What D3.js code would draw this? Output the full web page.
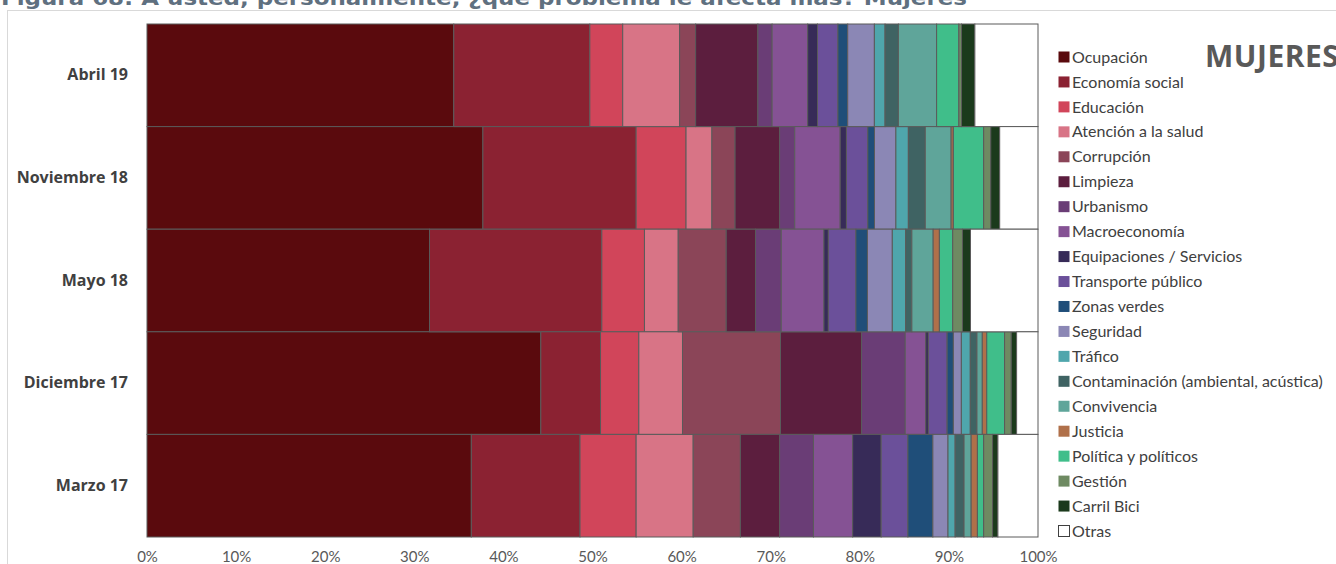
<!DOCTYPE html>
<html><head><meta charset="utf-8">
<script src="https://cdn.jsdelivr.net/npm/d3@7"></script>
<style>
html,body{margin:0;padding:0;background:#fff;}
svg{display:block;}
</style></head>
<body>
<svg id="chart" width="1336" height="564"></svg>
<script>
const waves = ["Abril 19","Noviembre 18","Mayo 18","Diciembre 17","Marzo 17"];
const problems = ["Ocupación","Economía social","Educación","Atención a la salud","Corrupción","Limpieza","Urbanismo","Macroeconomía","Equipaciones / Servicios","Transporte público","Zonas verdes","Seguridad","Tráfico","Contaminación (ambiental, acústica)","Convivencia","Justicia","Política y políticos","Gestión","Carril Bici","Otras"];
const colors = ["#5a0a0d","#8b2232","#d1455a","#d87486","#8b4558","#5c1e3e","#6a3d76","#855294","#372b58","#6b509a","#1f4e79","#8b87b5","#4fa6ac","#3f6363","#5fa59a","#b0704a","#40be8a","#6e8a62","#1b3a1c","#ffffff"];
const ticks = [0,0.1,0.2,0.3,0.4,0.5,0.6,0.7,0.8,0.9,1];

const abril19     = [34.5,15.3,3.7,6.4,1.8,7.0,1.6,4.0,1.1,2.3,1.1,3.0,1.2,1.5,4.3,0.0,2.5,0.3,1.5,7.1];
const noviembre18 = [37.7,17.2,5.6,2.9,2.6,5.0,1.7,5.1,0.7,2.4,0.75,2.4,1.4,1.9,2.9,0.25,3.4,0.8,1.0,4.3];
const mayo18      = [31.8,19.4,4.8,3.8,5.4,3.3,2.9,4.8,0.5,3.1,1.3,2.8,1.5,0.7,2.4,0.7,1.5,1.1,0.9,7.6];
const diciembre17 = [44.2,6.7,4.3,4.9,11.0,9.1,4.9,2.3,0.3,2.1,0.7,0.9,1.0,0.75,0.6,0.5,2.0,0.75,0.6,2.4];
const marzo17     = [36.4,12.2,6.3,6.4,5.3,4.4,3.8,4.4,3.2,3.0,2.8,1.7,0.8,1.0,0.8,0.7,0.7,1.0,0.6,4.5];
const waveValues = [abril19, noviembre18, mayo18, diciembre17, marzo17];

const table = waves.map((w, i) => {
  const row = {wave: w};
  problems.forEach((p, j) => row[p] = waveValues[i][j]);
  return row;
});

const svg = d3.select("#chart");
const W = 1336, H = 564;

// chart frame
svg.append("rect").attr("x", 7.5).attr("y", 10.5).attr("width", W).attr("height", H)
  .attr("fill", "none").attr("stroke", "#d9d9d9").attr("stroke-width", 1);

// title (partially cut at top)
svg.append("text").attr("x", 1).attr("y", 5)
  .attr("font-family", "DejaVu Sans").attr("font-weight", "bold").attr("font-size", 20)
  .attr("fill", "#5f7080").attr("textLength", 966).attr("lengthAdjust", "spacingAndGlyphs")
  .text("Figura 68: A usted, personalmente, ¿qué problema le afecta más? Mujeres");

const x = d3.scaleLinear().domain([0, 1]).range([147, 1038]);
const y = d3.scaleBand().domain(waves).range([24, 537]).padding(0);
const color = d3.scaleOrdinal().domain(problems).range(colors);

const stack = d3.stack().keys(problems).offset(d3.stackOffsetExpand);
const series = stack(table);

svg.append("g").selectAll("g").data(series).join("g")
  .attr("fill", d => color(d.key))
  .selectAll("rect").data(d => d).join("rect")
  .attr("x", d => x(d[0]))
  .attr("y", d => y(d.data.wave))
  .attr("width", d => Math.max(0, x(d[1]) - x(d[0])))
  .attr("height", y.bandwidth())
  .attr("stroke", "#5a5a5a").attr("stroke-width", 1);

// x axis
const xAxis = svg.append("g").attr("transform", "translate(0,548)")
  .call(d3.axisBottom(x).tickValues(ticks).tickFormat(d3.format(".0%")).tickSize(0));
xAxis.select(".domain").remove();
xAxis.selectAll("text").attr("font-family", "Lato").attr("font-size", 15).attr("fill", "#595959");

// y axis
const yAxis = svg.append("g").attr("transform", "translate(136,0)")
  .call(d3.axisLeft(y).tickSize(0).tickPadding(8));
yAxis.select(".domain").remove();
yAxis.selectAll("text").attr("font-family", "Open Sans").attr("font-weight", "bold")
  .attr("font-size", 16).attr("fill", "#404040");

// legend
const lg = svg.append("g");
const ly = d3.scaleLinear().domain([0, problems.length - 1]).range([57, 531]);
const items = lg.selectAll("g").data(problems).join("g")
  .attr("transform", (d, i) => `translate(1058,${ly(i)})`);
items.append("rect").attr("x", 0.5).attr("y", -5.5).attr("width", 11).attr("height", 11)
  .attr("fill", d => color(d)).attr("stroke", d => d === "Otras" ? "#404040" : "none");
items.append("text").attr("x", 14).attr("y", 0).attr("dy", "0.35em")
  .attr("font-family", "Lato").attr("font-size", 16).attr("fill", "#404040").text(d => d);

svg.append("text").attr("x", 1205).attr("y", 67)
  .attr("font-family", "Open Sans").attr("font-weight", "bold").attr("font-size", 30)
  .attr("letter-spacing", 0.5)
  .attr("fill", "#595959").text("MUJERES");
</script>
</body></html>
